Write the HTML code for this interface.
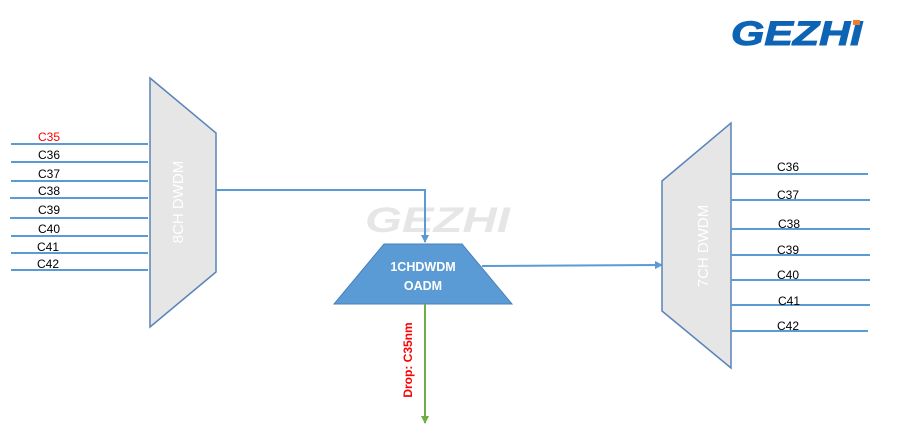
<!DOCTYPE html>
<html><head><style>body{margin:0;background:#fff}svg{display:block}text{font-family:"Liberation Sans",sans-serif}</style></head><body>
<svg width="906" height="443" viewBox="0 0 906 443" xmlns="http://www.w3.org/2000/svg">
<defs>
<marker id="ab" markerWidth="8" markerHeight="8" refX="7" refY="4" orient="auto" markerUnits="userSpaceOnUse"><path d="M0,0L8,4L0,8z" fill="#5b9bd5"/></marker>
<marker id="ag" markerWidth="8" markerHeight="8" refX="7" refY="4" orient="auto" markerUnits="userSpaceOnUse"><path d="M0,0L8,4L0,8z" fill="#70ad47"/></marker>
</defs>
<text x="731" y="45" font-size="34" font-weight="bold" font-style="italic" fill="#0e64b4" textLength="131" lengthAdjust="spacingAndGlyphs" stroke="#0e64b4" stroke-width="1">GEZHI</text>
<rect x="853" y="20" width="7" height="5" fill="#ed7d31"/>
<text x="365" y="232" font-size="35" font-weight="bold" font-style="italic" fill="#e6e6e6" textLength="145" lengthAdjust="spacingAndGlyphs">GEZHI</text>
<polygon points="150,78 216,133 216,272 150,327" fill="#e6e6e6" stroke="#5a84b8" stroke-width="1.5"/>
<text transform="translate(183,202) rotate(-90)" font-size="15" fill="#fff" text-anchor="middle">8CH DWDM</text>
<g stroke="#5b9bd5" stroke-width="2">
<line x1="11" y1="144" x2="148" y2="144"/><line x1="11" y1="162" x2="148" y2="162"/><line x1="11" y1="181" x2="148" y2="181"/><line x1="10" y1="198" x2="148" y2="198"/><line x1="10" y1="218" x2="148" y2="218"/><line x1="11" y1="236" x2="148" y2="236"/><line x1="11" y1="253" x2="148" y2="253"/><line x1="11" y1="270" x2="148" y2="270"/>
</g>
<g font-size="12" fill="#000">
<text x="38" y="141" fill="#ff0000">C35</text><text x="38" y="159">C36</text><text x="38" y="178">C37</text><text x="38" y="195">C38</text><text x="38" y="214">C39</text><text x="38" y="233">C40</text><text x="37" y="251">C41</text><text x="37" y="268">C42</text>
</g>
<polyline points="216,190 425,190 425,242" fill="none" stroke="#5b9bd5" stroke-width="2" marker-end="url(#ab)"/>
<polygon points="384,244 462,244 512,304 334,304" fill="#5b9bd5" stroke="#4a7fb5" stroke-width="1"/>
<text x="423" y="271" font-size="12.5" font-weight="bold" fill="#fff" text-anchor="middle">1CHDWDM</text>
<text x="423" y="290" font-size="12.5" font-weight="bold" fill="#fff" text-anchor="middle">OADM</text>
<line x1="482" y1="266" x2="662" y2="265" stroke="#5b9bd5" stroke-width="2" marker-end="url(#ab)"/>
<line x1="425" y1="304" x2="425" y2="423" stroke="#70ad47" stroke-width="2" marker-end="url(#ag)"/>
<text transform="translate(412,360) rotate(-90)" font-size="12" font-weight="bold" fill="#ff0000" text-anchor="middle">Drop: C35nm</text>
<polygon points="662,181 731,123 731,368 662,311" fill="#e6e6e6" stroke="#5a84b8" stroke-width="1.5"/>
<text transform="translate(708,246) rotate(-90)" font-size="15" fill="#fff" text-anchor="middle">7CH DWDM</text>
<g stroke="#5b9bd5" stroke-width="2">
<line x1="731" y1="174" x2="868" y2="174"/><line x1="731" y1="200" x2="870" y2="200"/><line x1="731" y1="229" x2="870" y2="229"/><line x1="731" y1="255" x2="870" y2="255"/><line x1="731" y1="280" x2="870" y2="280"/><line x1="731" y1="305" x2="870" y2="305"/><line x1="731" y1="331" x2="868" y2="331"/>
</g>
<g font-size="12" fill="#000">
<text x="777" y="171">C36</text><text x="777" y="199">C37</text><text x="778" y="228">C38</text><text x="777" y="254">C39</text><text x="777" y="279">C40</text><text x="778" y="305">C41</text><text x="777" y="330">C42</text>
</g>
</svg>
</body></html>
